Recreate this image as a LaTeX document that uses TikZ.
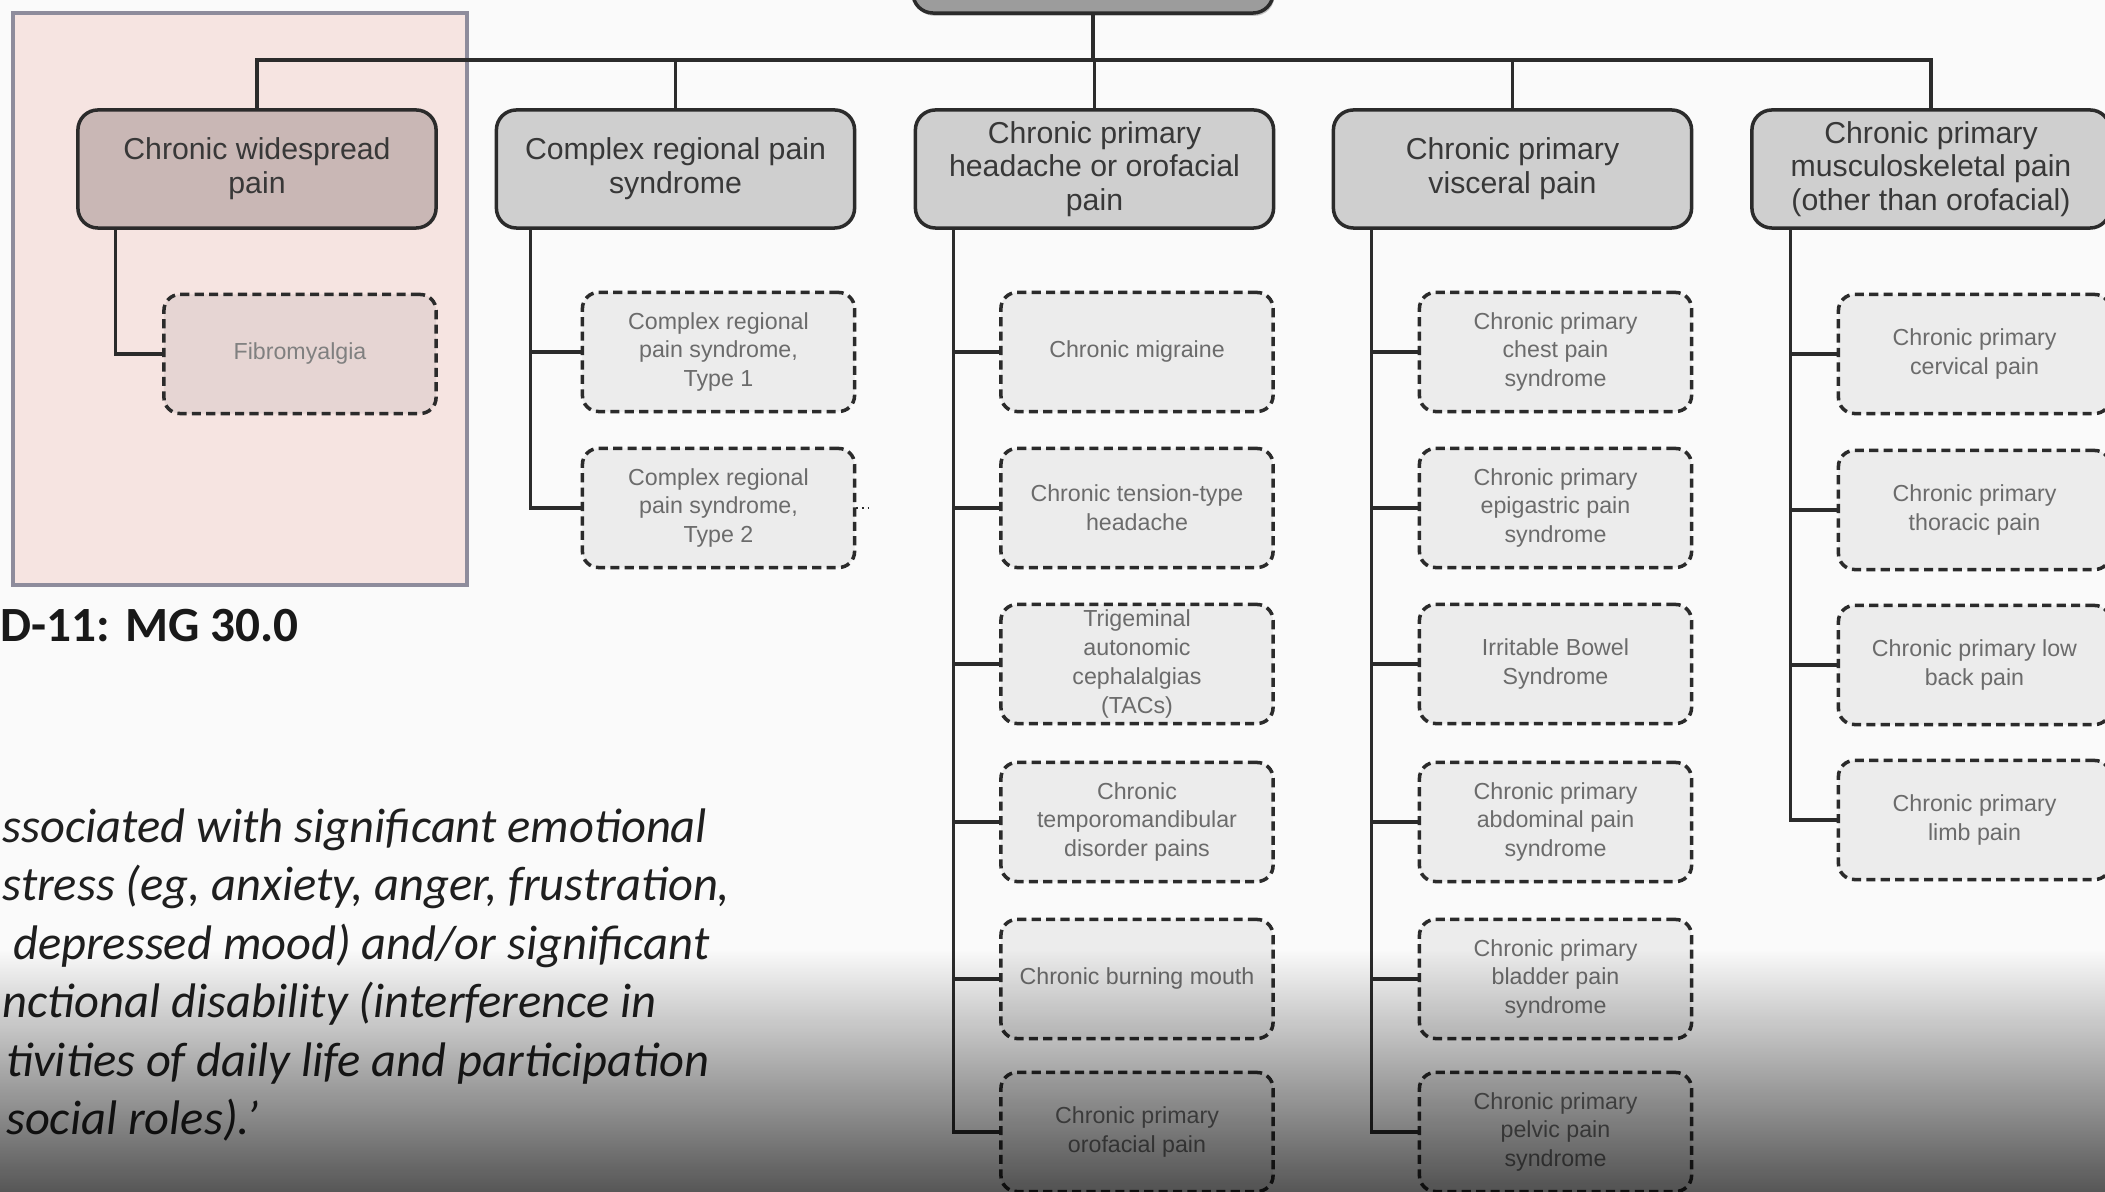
\documentclass[tikz,border=0pt]{standalone}
\usepackage{fontspec}
\setmainfont{Liberation Sans}
\newfontfamily\carlito{Carlito}
\usetikzlibrary{fadings,shadows}
\definecolor{pagebg}{HTML}{FAFAFA}
\definecolor{pinkbg}{HTML}{F6E4E1}
\definecolor{pinkline}{HTML}{8E8C9C}
\definecolor{mauve}{HTML}{C9B7B5}
\definecolor{mauvelight}{HTML}{E6D5D3}
\definecolor{midgray}{HTML}{CFCFCF}
\definecolor{palegray}{HTML}{ECECEC}
\definecolor{rootgray}{HTML}{9C9C9C}
\definecolor{inkline}{HTML}{2B2B2B}
\tikzfading[name=bottomdark, top color=transparent!100, bottom color=transparent!8]
\tikzset{
  mainbox/.style={draw=inkline, line width=1pt, fill=midgray, rounded corners=0.2cm,
    minimum width=3.58cm, minimum height=1.18cm, align=center, text=black!78,
    font=\fontsize{8.6}{9.6}\selectfont, inner sep=1pt},
  subbox/.style={draw=inkline, line width=1pt, dash pattern=on 2.6pt off 1.5pt,
    fill=palegray, rounded corners=0.16cm, minimum width=2.72cm, minimum height=1.19cm,
    align=center, text=black!58, font=\fontsize{6.6}{8.2}\selectfont, inner sep=1pt},
  link/.style={draw=inkline, line width=0.9pt}
}
\begin{document}
\begin{tikzpicture}[x=0.01cm, y=-0.01cm]
\useasboundingbox (0,0) rectangle (2105,1192);
\fill[pagebg] (0,0) rectangle (2105,1192);
\draw[pinkline, fill=pinkbg, line width=0.9pt] (13,13) rectangle (467,585);

\node[mainbox, fill=rootgray, minimum width=3.6cm, minimum height=1.06cm,
  drop shadow={shadow xshift=0.4pt, shadow yshift=-0.8pt, fill=black!45}] (root) at (1093,-40) {};
\coordinate (bus) at (0,60);

\node[mainbox, fill=mauve] (cwp) at (257,169) {Chronic widespread\\pain};
\node[mainbox] (crps) at (675.5,169) {Complex regional pain\\syndrome};
\node[mainbox] (head) at (1094.5,169) {Chronic primary\\headache or orofacial\\pain};
\node[mainbox] (visc) at (1512.5,169) {Chronic primary\\visceral pain};
\node[mainbox] (musc) at (1931,169) {Chronic primary\\musculoskeletal pain\\(other than orofacial)};

\draw[link] (root.south) -- (root.south |- bus);
\draw[link] (cwp.north) -- (cwp.north |- bus) -- (musc.north |- bus) -- (musc.north);
\foreach \n in {crps,head,visc} \draw[link] (\n.north) -- (\n.north |- bus);

\node[subbox, fill=mauvelight, text=black!50] (fibro) at (300,354) {Fibromyalgia};
\draw[link] ([xshift=0.39cm]cwp.south west) |- (fibro.west);

\node[subbox] (crpsa) at (718.5,352) {Complex regional\\pain syndrome,\\Type 1};
\node[subbox] (crpsb) at (718.5,508) {Complex regional\\pain syndrome,\\Type 2};
\foreach \n in {crpsa,crpsb} \draw[link] ([xshift=0.36cm]crps.south west) |- (\n.west);
\draw[inkline, densely dotted, line width=0.6pt] (crpsb.east) -- ++(12,0);

\foreach \n/\y/\t in {mig/352/{Chronic migraine},
    tth/508/{Chronic tension-type\\headache},
    tac/664/{Trigeminal\\autonomic\\cephalalgias\\(TACs)},
    tmd/822/{Chronic\\temporomandibular\\disorder pains},
    bmo/979/{Chronic burning mouth},
    ofp/1132/{Chronic primary\\orofacial pain}}{
  \node[subbox] (\n) at (1137,\y) {\t};
  \draw[link] ([xshift=0.4cm]head.south west) |- (\n.west);
}

\foreach \n/\y/\t in {chest/352/{Chronic primary\\chest pain\\syndrome},
    epig/508/{Chronic primary\\epigastric pain\\syndrome},
    ibs/664/{Irritable Bowel\\Syndrome},
    abdo/822/{Chronic primary\\abdominal pain\\syndrome},
    blad/979/{Chronic primary\\bladder pain\\syndrome},
    pelv/1132/{Chronic primary\\pelvic pain\\syndrome}}{
  \node[subbox] (\n) at (1555.5,\y) {\t};
  \draw[link] ([xshift=0.4cm]visc.south west) |- (\n.west);
}

\foreach \n/\y/\t in {cerv/354/{Chronic primary\\cervical pain},
    thor/510/{Chronic primary\\thoracic pain},
    lowb/665/{Chronic primary low\\back pain},
    limb/820/{Chronic primary\\limb pain}}{
  \node[subbox] (\n) at (1974.5,\y) {\t};
  \draw[link] ([xshift=0.4cm]musc.south west) |- (\n.west);
}

\node[anchor=west, inner sep=0, text=black!90,
  font=\carlito\bfseries\fontsize{14}{17}\selectfont] (icd) at (0,626) {D-11: MG 30.0};
\node[anchor=west, inner sep=0, align=left, text=black!88,
  font=\carlito\itshape\fontsize{13.8}{16.6}\selectfont] (quote) at (2,975)
  {ssociated with significant emotional\\
   stress (eg, anxiety, anger, frustration,\\
   \hspace{3pt}depressed mood) and/or significant\\
   nctional disability (interference in\\
   \hspace{1pt}tivities of daily life and participation\\
   \hspace{1pt}social roles).’};

\fill[black, path fading=bottomdark] (0,950) rectangle (2105,1290);
\end{tikzpicture}
\end{document}
